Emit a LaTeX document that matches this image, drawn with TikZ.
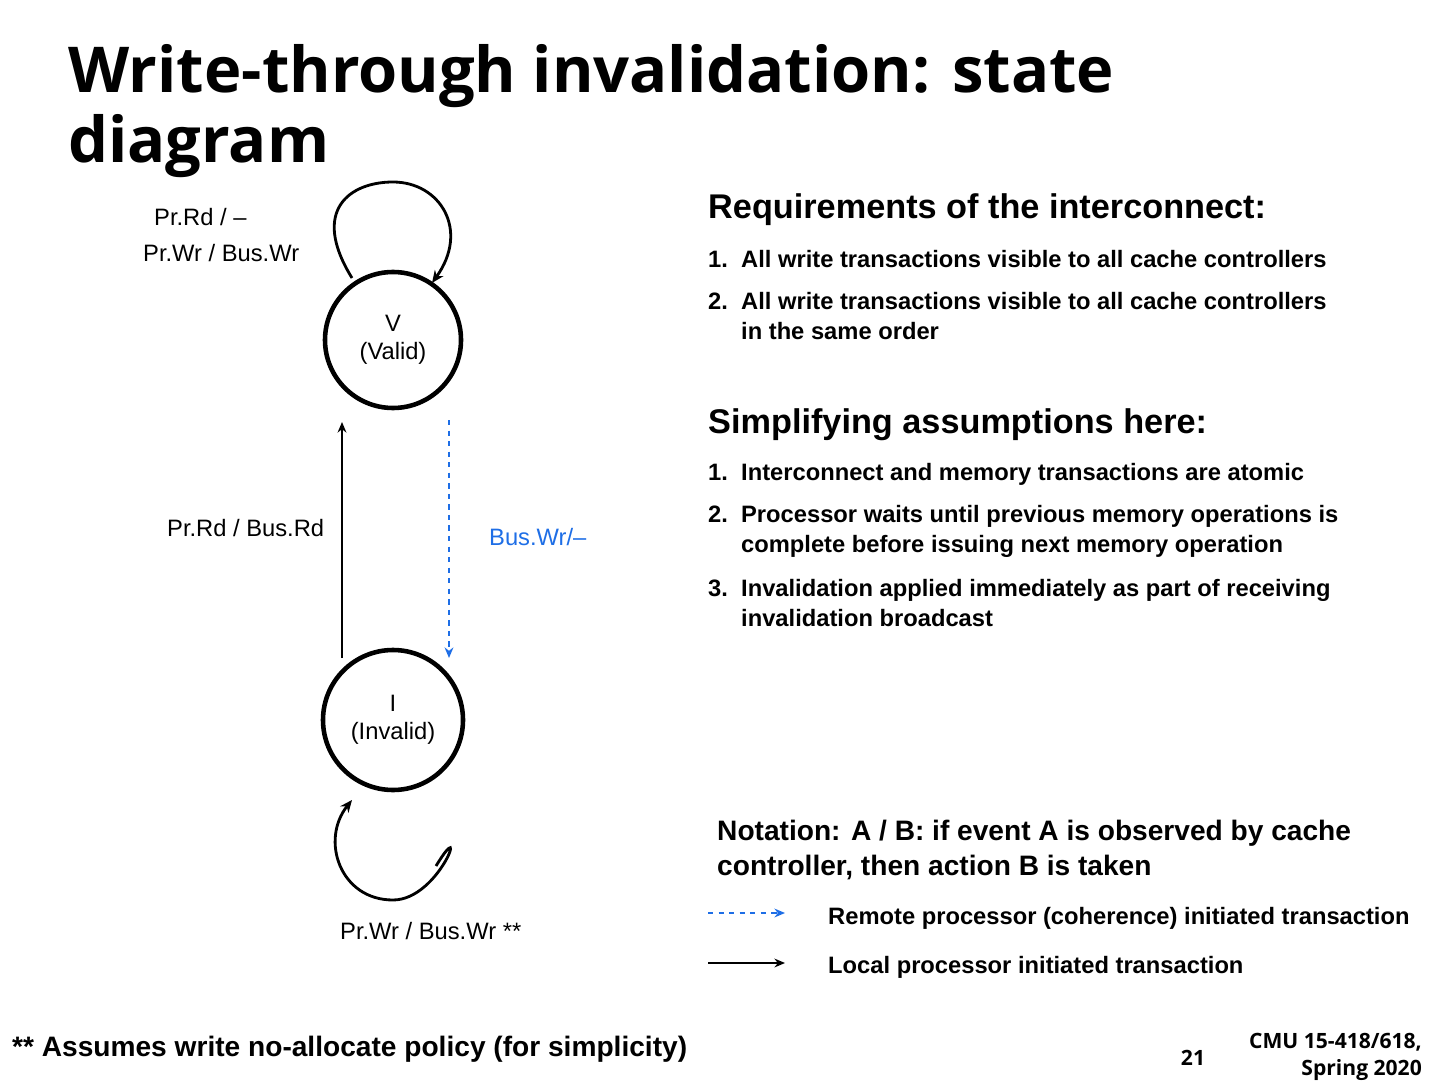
\documentclass[tikz,border=0pt]{standalone}
\usepackage{fontspec}
\setmainfont{Liberation Sans}
\newfontfamily\titlefont{Open Sans}
\usetikzlibrary{arrows.meta}
\begin{document}
\begin{tikzpicture}[x=0.2mm,y=-0.2mm]
    	% styles
    	\tikzset{
    		state/.style={circle, draw, line width=2.6pt, minimum size=136*0.2mm, align=center, inner sep=0pt, font=\fontsize{13.5}{16}\selectfont},
    		lbl/.style={font=\fontsize{13.5}{16}\selectfont},
    		txt/.style={anchor=west, align=left, font=\bfseries\fontsize{13.5}{17}\selectfont},
    		head/.style={anchor=west, font=\bfseries\fontsize{19.5}{22}\selectfont},
    		local/.style={-{Stealth[length=6pt,width=5pt]}, line width=1.3pt},
    		remote/.style={-{Stealth[length=6pt,width=5pt]}, line width=1.3pt, dashed, draw={rgb,255:red,30;green,110;blue,230}},
    		loop/.style={-{Stealth[length=7pt,width=6pt]}, line width=1.6pt}
    	}
    	\useasboundingbox (0,0) rectangle (1440,1080);
    	
    	% title
    	\node[anchor=north west, align=left, font=\titlefont\bfseries\fontsize{36}{40}\selectfont] (title) at (62,38) {Write-through invalidation: state\\diagram};
    	
    	% states
    	\node[state] (V) at (393,340) {V\\(Valid)};
    	\node[state, minimum size=140*0.2mm] (I) at (393,720) {I\\(Invalid)};
    	
    	% self loops
    	\coordinate (va) at (352,278);
    	\coordinate (vb) at (432,283);
    	\draw[loop] (va) .. controls (310,210) and (350,182) .. (393,182) .. controls (440,182) and (470,230) .. (vb);
    	\coordinate (ia) at (436,866);
    	\coordinate (ib) at (352,800);
    	\draw[loop] (ia) .. controls (470,810) and (440,900) .. (393,900) .. controls (340,900) and (320,840) .. (ib);
    	
    	% transitions
    	\coordinate (ia1) at (342,658);
    	\coordinate (va1) at (342,422);
    	\coordinate (va2) at (449,420);
    	\coordinate (ia2) at (449,658);
    	\draw[local] (ia1) -- (va1);
    	\draw[remote] (va2) -- (ia2);
    	
    	% labels
    	\node[lbl, anchor=west] (l1) at (148,217) {Pr.Rd / --};
    	\node[lbl, anchor=west] (l2) at (137,253) {Pr.Wr / Bus.Wr};
    	\node[lbl, anchor=west] (l3) at (161,528) {Pr.Rd / Bus.Rd};
    	\node[lbl, anchor=west, text={rgb,255:red,30;green,110;blue,230}] (l4) at (483,537) {Bus.Wr/--};
    	\node[lbl, anchor=west] (l5) at (334,931) {Pr.Wr / Bus.Wr **};
    	
    	% requirements
    	\node[head] (req) at (702,210) {Requirements of the interconnect:};
    	\node[txt] (r1) at (702,259) {1.\ \ All write transactions visible to all cache controllers};
    	\node[txt] (r2) at (702,316) {2.\ \ All write transactions visible to all cache controllers\\\phantom{2.\ \ }in the same order};
    	\node[head] (simp) at (702,425) {Simplifying assumptions here:};
    	\node[txt] (s1) at (702,474) {1.\ \ Interconnect and memory transactions are atomic};
    	\node[txt] (s2) at (702,531) {2.\ \ Processor waits until previous memory operations is\\\phantom{2.\ \ }complete before issuing next memory operation};
    	\node[txt] (s3) at (702,603) {3.\ \ Invalidation applied immediately as part of receiving\\\phantom{3.\ \ }invalidation broadcast};
    	
    	% notation
    	\node[txt, font=\bfseries\fontsize{16}{19.5}\selectfont] (nota) at (711,850) {Notation: A / B: if event A is observed by cache\\controller, then action B is taken};
    	\coordinate (da) at (708,913);
    	\coordinate (db) at (785,913);
    	\coordinate (sa) at (708,963);
    	\coordinate (sb) at (785,963);
    	\draw[remote] (da) -- (db);
    	\draw[local] (sa) -- (sb);
    	\node[txt] (k1) at (822,918) {Remote processor (coherence) initiated transaction};
    	\node[txt] (k2) at (822,967) {Local processor initiated transaction};
    	
    	% footer
    	\node[txt, font=\bfseries\fontsize{16}{19}\selectfont] (foot) at (6,1049) {** Assumes write no-allocate policy (for simplicity)};
    	\node[font=\titlefont\bfseries\fontsize{12}{14}\selectfont] (page) at (1193,1058) {21};
    	\node[anchor=east, align=right, font=\titlefont\bfseries\fontsize{12}{15}\selectfont] (cmu) at (1428,1057) {CMU 15-418/618,\\Spring 2020};
\end{tikzpicture}
\end{document}
